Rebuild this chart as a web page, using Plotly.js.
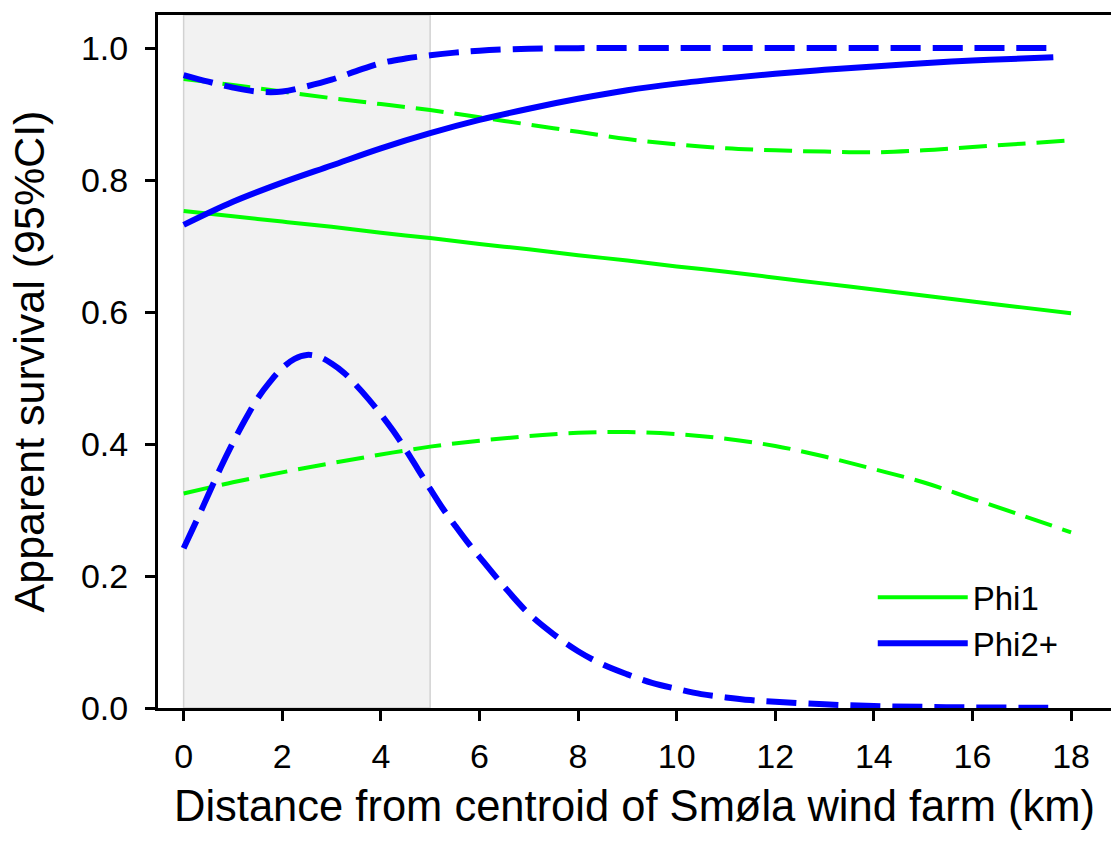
<!DOCTYPE html>
<html>
<head>
<meta charset="utf-8">
<script src="https://cdn.plot.ly/plotly-3.0.1.min.js"></script>
<style>html,body{margin:0;padding:0;background:#fff;}#chart{width:1111px;height:846px;}</style>
</head>
<body>
<div id="chart"></div>
<script>
// Distance (km) grids
const distPhi1 = [0,1,2,3,4,5,6,7,8,9,10,11,12,13,14,15,16,17,18];
const phi1Est = [0.753,0.745,0.737,0.729,0.720,0.712,0.703,0.695,0.686,0.678,0.669,0.661,0.652,0.643,0.634,0.625,0.616,0.607,0.598];
const phi1Upper = [0.953,0.944,0.934,0.924,0.915,0.906,0.895,0.884,0.873,0.862,0.854,0.848,0.845,0.843,0.842,0.845,0.850,0.855,0.860];
const phi1Lower = [0.325,0.342,0.357,0.371,0.384,0.396,0.405,0.412,0.417,0.418,0.415,0.408,0.397,0.381,0.362,0.342,0.317,0.292,0.266];

const distPhi2Est = [0,1,2,3,4,5,6,7,8,9,10,11,12,13,14,15,16,17,17.64];
const phi2Est = [0.732,0.767,0.796,0.822,0.848,0.871,0.891,0.908,0.923,0.936,0.946,0.954,0.961,0.967,0.972,0.977,0.981,0.984,0.986];

const distPhi2Upper = [0,0.5,1,1.5,2,2.5,3,3.5,4,4.5,5,5.5,6,7,8,10,12,14,16,17.64];
const phi2Upper = [0.959,0.949,0.940,0.934,0.934,0.942,0.952,0.965,0.977,0.984,0.989,0.993,0.996,0.999,0.9998,1.0,1.0,1.0,1.0,1.0];

const distPhi2Lower = [0,0.25,0.5,0.75,1,1.25,1.5,1.75,2,2.25,2.5,2.75,3,3.25,3.5,3.75,4,4.25,4.5,4.75,5,5.25,5.5,5.75,6,6.5,7,7.5,8,8.5,9,9.5,10,10.5,11,11.5,12,13,14,15,16,17,17.64];
const phi2Lower = [0.242,0.282,0.323,0.364,0.402,0.437,0.469,0.494,0.515,0.529,0.535,0.532,0.522,0.508,0.489,0.468,0.445,0.420,0.392,0.362,0.332,0.303,0.277,0.252,0.229,0.184,0.143,0.112,0.086,0.066,0.051,0.038,0.029,0.021,0.016,0.012,0.0095,0.0055,0.003,0.0017,0.0009,0.0005,0.0003];

const xTicks = [0,2,4,6,8,10,12,14,16,18];
const yTicks = [0,0.2,0.4,0.6,0.8,1.0];

const GREEN = '#00ff00', BLUE = '#0000ff';
const FONT = 'Liberation Sans, Arial, Helvetica, sans-serif';

const traces = [
  {x: distPhi1, y: phi1Upper, mode:'lines', line:{color:GREEN, width:4, dash:'28px,11px', shape:'spline'}, showlegend:false, hoverinfo:'skip'},
  {x: distPhi1, y: phi1Lower, mode:'lines', line:{color:GREEN, width:4, dash:'28px,11px', shape:'spline'}, showlegend:false, hoverinfo:'skip'},
  {x: distPhi2Upper, y: phi2Upper, mode:'lines', line:{color:BLUE, width:6, dash:'30px,12px', shape:'spline'}, showlegend:false, hoverinfo:'skip'},
  {x: distPhi2Lower, y: phi2Lower, mode:'lines', line:{color:BLUE, width:6, dash:'30px,12px', shape:'spline'}, showlegend:false, hoverinfo:'skip'},
  {x: distPhi1, y: phi1Est, name:'Phi1', mode:'lines', line:{color:GREEN, width:4, shape:'spline'}},
  {x: distPhi2Est, y: phi2Est, name:'Phi2+', mode:'lines', line:{color:BLUE, width:6, shape:'spline'}}
];

const layout = {
  width:1111, height:846,
  margin:{l:158, r:0, t:15, b:138, pad:0},
  paper_bgcolor:'#ffffff', plot_bgcolor:'rgba(0,0,0,0)',
  font:{family:FONT, color:'#000', size:34},
  showlegend:true,
  legend:{x:0.75, y:0.2, xanchor:'left', yanchor:'top', bgcolor:'rgba(0,0,0,0)',
          font:{family:FONT, size:33, color:'#000'}, itemwidth:90, tracegroupgap:0},
  xaxis:{range:[-0.52,18.81], tickvals:xTicks, ticktext:xTicks.map(String),
         showgrid:false, zeroline:false, showline:true, mirror:true, linecolor:'#000', linewidth:3,
         ticks:'outside', ticklen:10, tickwidth:3, tickcolor:'#000', ticklabelstandoff:6,
         tickfont:{family:FONT, size:34, color:'#000'},
         title:{text:'Distance from centroid of Smøla wind farm (km)', font:{family:FONT, size:43.5, color:'#000'}, standoff:17}},
  yaxis:{range:[0,1.05], tickvals:yTicks, ticktext:yTicks.map(v=>v.toFixed(1)),
         showgrid:false, zeroline:false, showline:true, mirror:false, linecolor:'#000', linewidth:3,
         ticks:'outside', ticklen:10, tickwidth:3, tickcolor:'#000', ticklabelstandoff:10,
         tickfont:{family:FONT, size:34, color:'#000'},
         title:{text:'Apparent survival (95%CI)', font:{family:FONT, size:43, color:'#000'}, standoff:23}},
  shapes:[{type:'rect', xref:'x', yref:'y', x0:0, x1:5, y0:0, y1:1.05, fillcolor:'#f2f2f2',
           line:{color:'#d2d2d2', width:1.5}, layer:'below'}]
};

Plotly.newPlot('chart', traces, layout, {displayModeBar:false, staticPlot:true});
</script>
</body>
</html>
